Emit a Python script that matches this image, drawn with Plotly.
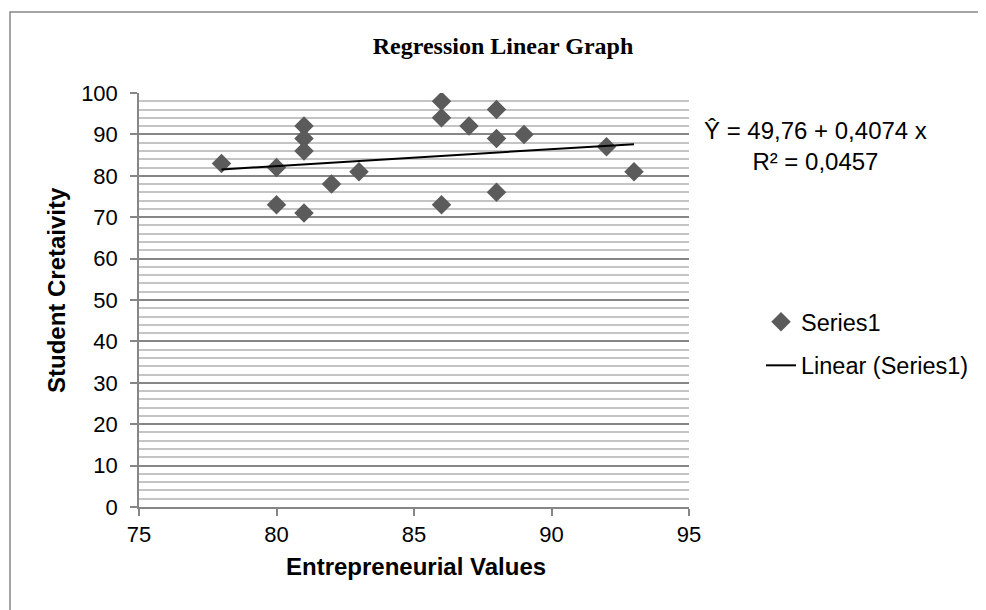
import plotly.graph_objects as go

# Data
entrepreneurial_values = [78, 80, 80, 81, 81, 81, 81, 82, 83, 86, 86, 86, 87, 88, 88, 88, 89, 92, 93]
student_creativity = [83, 82, 73, 92, 89, 86, 71, 78, 81, 98, 94, 73, 92, 96, 89, 76, 90, 87, 81]

# Printed regression coefficients
intercept = 49.76
slope = 0.4074
r_squared = 0.0457

OFF = 8  # page body margin offset
W, H = 986 - OFF, 610 - OFF
ML, MT = 139 - OFF, 93 - OFF
PLOT_R, PLOT_B = 689 - OFF, 507 - OFF
MR, MB = W - PLOT_R, H - PLOT_B
PW, PH = W - ML - MR, H - MT - MB

def px_x(px):
    return (px - OFF - ML) / PW

def px_y(py):
    return (H - MB - (py - OFF)) / PH

sans = "Liberation Sans, Arial, sans-serif"
serif = "Liberation Serif, Times New Roman, serif"
axis_gray = "#868686"

x_line = [min(entrepreneurial_values), max(entrepreneurial_values)]
y_line = [intercept + slope * v for v in x_line]

fig = go.Figure()
fig.add_trace(go.Scatter(
    x=entrepreneurial_values, y=student_creativity, mode="markers", name="Series1",
    legendgroup="a",
    marker=dict(symbol="diamond", size=15, color="#5b5b5b", line=dict(width=0)),
))
fig.add_trace(go.Scatter(
    x=x_line, y=y_line, mode="lines", name="Linear (Series1)",
    legendgroup="b",
    line=dict(color="black", width=2),
))

fig.update_layout(
    width=W, height=H,
    margin=dict(l=ML, r=MR, t=MT, b=MB),
    paper_bgcolor="white", plot_bgcolor="white",
    font=dict(family=sans, size=22, color="black"),
    showlegend=True,
    legend=dict(x=px_x(761), y=px_y(300), xanchor="left", yanchor="top",
                font=dict(family=sans, size=23.5), tracegroupgap=10,
                bgcolor="rgba(0,0,0,0)"),
    xaxis=dict(range=[75, 95], dtick=5, tick0=75, showgrid=False, zeroline=False,
               showline=True, linecolor=axis_gray, linewidth=1.5,
               ticks="outside", ticklen=7, tickcolor=axis_gray, tickwidth=1.5,
               ticklabelstandoff=0,
               tickfont=dict(family=sans, size=22)),
    yaxis=dict(range=[0, 100], dtick=10, tick0=0, showgrid=True, gridcolor=axis_gray,
               gridwidth=1.5, zeroline=False,
               showline=True, linecolor=axis_gray, linewidth=1.5,
               ticks="outside", ticklen=7, tickcolor=axis_gray, tickwidth=1.5,
               ticklabelstandoff=8,
               minor=dict(dtick=2, showgrid=True, gridcolor="#c4c4c4", gridwidth=1.5),
               tickfont=dict(family=sans, size=22)),
    title=dict(text="<b>Regression Linear Graph</b>", x=(503 - OFF) / W, xref="container",
               xanchor="center", y=1 - (46 - OFF) / H, yanchor="middle",
               font=dict(family=serif, size=24, color="black")),
    shapes=[dict(type="rect", xref="paper", yref="paper",
                 x0=px_x(10), x1=px_x(1000), y0=px_y(630), y1=px_y(12),
                 line=dict(color=axis_gray, width=1.5), fillcolor="rgba(0,0,0,0)", layer="below")],
    annotations=[
        dict(xref="paper", yref="paper", x=px_x(815), y=px_y(146),
             xanchor="center", yanchor="middle", align="center", showarrow=False,
             text="\u0176 = 49,76 + 0,4074 x<br>R\u00b2 = 0,0457",
             font=dict(family=sans, size=24, color="black")),
        dict(xref="paper", yref="paper", x=px_x(416), y=px_y(566),
             xanchor="center", yanchor="middle", showarrow=False,
             text="<b>Entrepreneurial Values</b>",
             font=dict(family=sans, size=24, color="black")),
        dict(xref="paper", yref="paper", x=px_x(56), y=px_y(290),
             xanchor="center", yanchor="middle", showarrow=False, textangle=-90,
             text="<b>Student Cretaivity</b>",
             font=dict(family=sans, size=24, color="black")),
    ],
)

fig.write_html("out.html")
